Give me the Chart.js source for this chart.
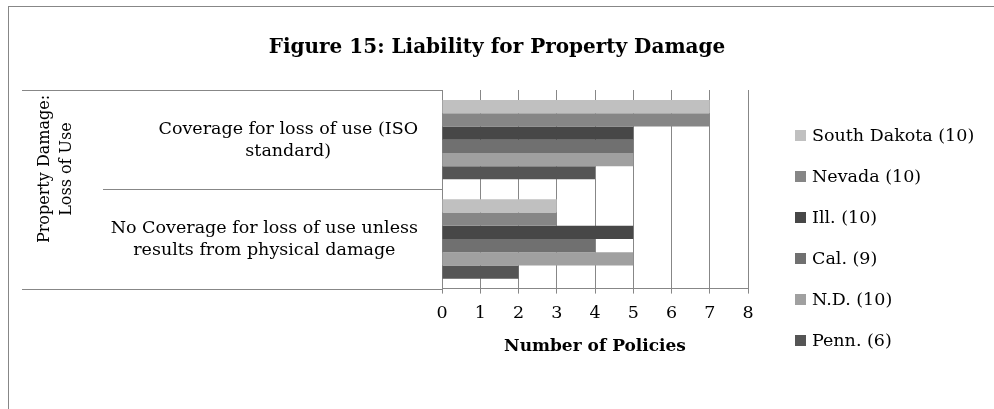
<!DOCTYPE html>
<html>
<head>
<meta charset="utf-8">
<script src="https://cdn.jsdelivr.net/npm/chart.js@4/dist/chart.umd.min.js"></script>
<style>
  html, body { margin: 0; padding: 0; background: #fff; }
  #wrap { width: 994px; height: 409px; }
</style>
</head>
<body>
<div id="wrap"><canvas id="damageChart" width="994" height="409"></canvas></div>
<script>
// data
const chartTitle = 'Figure 15: Liability for Property Damage';
const groupLabel = ['Property Damage:', 'Loss of Use'];
const categories = [
  ['Coverage for loss of use (ISO', 'standard)'],
  ['No Coverage for loss of use unless', 'results from physical damage']
];
const southDakota = [7, 3];
const nevada = [7, 3];
const illinois = [5, 5];
const california = [5, 4];
const northDakota = [5, 5];
const pennsylvania = [4, 2];
const xTicks = [0, 1, 2, 3, 4, 5, 6, 7, 8];
const xTitle = 'Number of Policies';

const lineGray = '#878787';
const serif = "'DejaVu Serif', serif";
const labelSize = 17.5;

// multi-level category labels, separators, outer frame and legend
const decorations = {
  id: 'decorations',
  beforeDraw(chart) {
    const ctx = chart.ctx;
    ctx.save();
    ctx.strokeStyle = lineGray;
    ctx.lineWidth = 1;
    ctx.strokeRect(8.5, 6.5, 1000, 420);
    ctx.restore();
  },
  afterDraw(chart) {
    const ctx = chart.ctx;
    const area = chart.chartArea;
    const y = chart.scales.y;
    const mid = Math.round((y.getPixelForValue(0) + y.getPixelForValue(1)) / 2) + 0.5;
    ctx.save();
    ctx.strokeStyle = lineGray;
    ctx.lineWidth = 1;
    ctx.beginPath();
    ctx.moveTo(22, Math.round(area.top) + 0.5); ctx.lineTo(area.left, Math.round(area.top) + 0.5);
    ctx.moveTo(103, mid); ctx.lineTo(area.left, mid);
    ctx.moveTo(22, Math.round(area.bottom) + 0.5); ctx.lineTo(area.left, Math.round(area.bottom) + 0.5);
    ctx.stroke();

    ctx.fillStyle = '#000';
    ctx.font = labelSize + 'px ' + serif;
    ctx.textAlign = 'center';
    ctx.textBaseline = 'middle';
    categories.forEach((lines, i) => {
      const w = Math.max(...lines.map(l => ctx.measureText(l).width));
      const cx = area.left - 24 - w / 2;
      const cy = y.getPixelForValue(i) + 1;
      lines.forEach((l, k) => ctx.fillText(l, cx, cy + (k - (lines.length - 1) / 2) * 22));
    });

    // outer level label, rotated
    ctx.font = '16px ' + serif;
    ctx.translate(56, 169);
    ctx.rotate(-Math.PI / 2);
    groupLabel.forEach((l, k) => ctx.fillText(l, 0, (k - 0.5) * 22));
    ctx.setTransform(1, 0, 0, 1, 0, 0);

    ctx.font = labelSize + 'px ' + serif;
    ctx.textAlign = 'left';
    chart.data.datasets.forEach((ds, i) => {
      const ly = 135 + i * 41;
      ctx.fillStyle = ds.backgroundColor;
      ctx.fillRect(795, ly - 5, 11, 11);
      ctx.fillStyle = '#000';
      ctx.fillText(ds.label, 812, ly + 1);
    });
    ctx.restore();
  }
};

Chart.defaults.font.family = serif;
Chart.defaults.color = '#000';

const ctx = document.getElementById('damageChart').getContext('2d');
new Chart(ctx, {
  type: 'bar',
  data: {
    labels: categories,
    datasets: [
      { label: 'South Dakota (10)', data: southDakota, backgroundColor: '#c0c0c0' },
      { label: 'Nevada (10)', data: nevada, backgroundColor: '#868686' },
      { label: 'Ill. (10)', data: illinois, backgroundColor: '#474747' },
      { label: 'Cal. (9)', data: california, backgroundColor: '#707070' },
      { label: 'N.D. (10)', data: northDakota, backgroundColor: '#a0a0a0' },
      { label: 'Penn. (6)', data: pennsylvania, backgroundColor: '#555555' }
    ]
  },
  options: {
    indexAxis: 'y',
    responsive: false,
    animation: false,
    layout: { padding: { left: 0, right: 0, top: 0, bottom: 50 } },
    datasets: { bar: { categoryPercentage: 0.8, barPercentage: 1 } },
    plugins: {
      legend: { display: false },
      tooltip: { enabled: false },
      title: {
        display: true,
        text: chartTitle,
        font: { size: 20, weight: 'bold' },
        padding: { top: 36, bottom: 30 }
      }
    },
    scales: {
      x: {
        min: 0,
        max: 8,
        afterBuildTicks: s => { s.ticks = xTicks.map(v => ({ value: v })); },
        grid: { color: lineGray, tickLength: 5, tickColor: lineGray },
        border: { color: lineGray },
        ticks: { padding: 9.5, font: { size: labelSize } },
        title: {
          display: true,
          text: xTitle,
          font: { size: 17, weight: 'bold' },
          padding: { top: 3, bottom: 2 }
        }
      },
      y: {
        grid: { display: false },
        border: { color: lineGray },
        ticks: { display: false },
        afterFit: s => { s.width = 442; }
      },
      y2: {
        type: 'linear',
        position: 'right',
        grid: { display: false },
        border: { display: false },
        ticks: { display: false },
        afterFit: s => { s.width = 246; }
      }
    }
  },
  plugins: [decorations]
});
</script>
</body>
</html>
